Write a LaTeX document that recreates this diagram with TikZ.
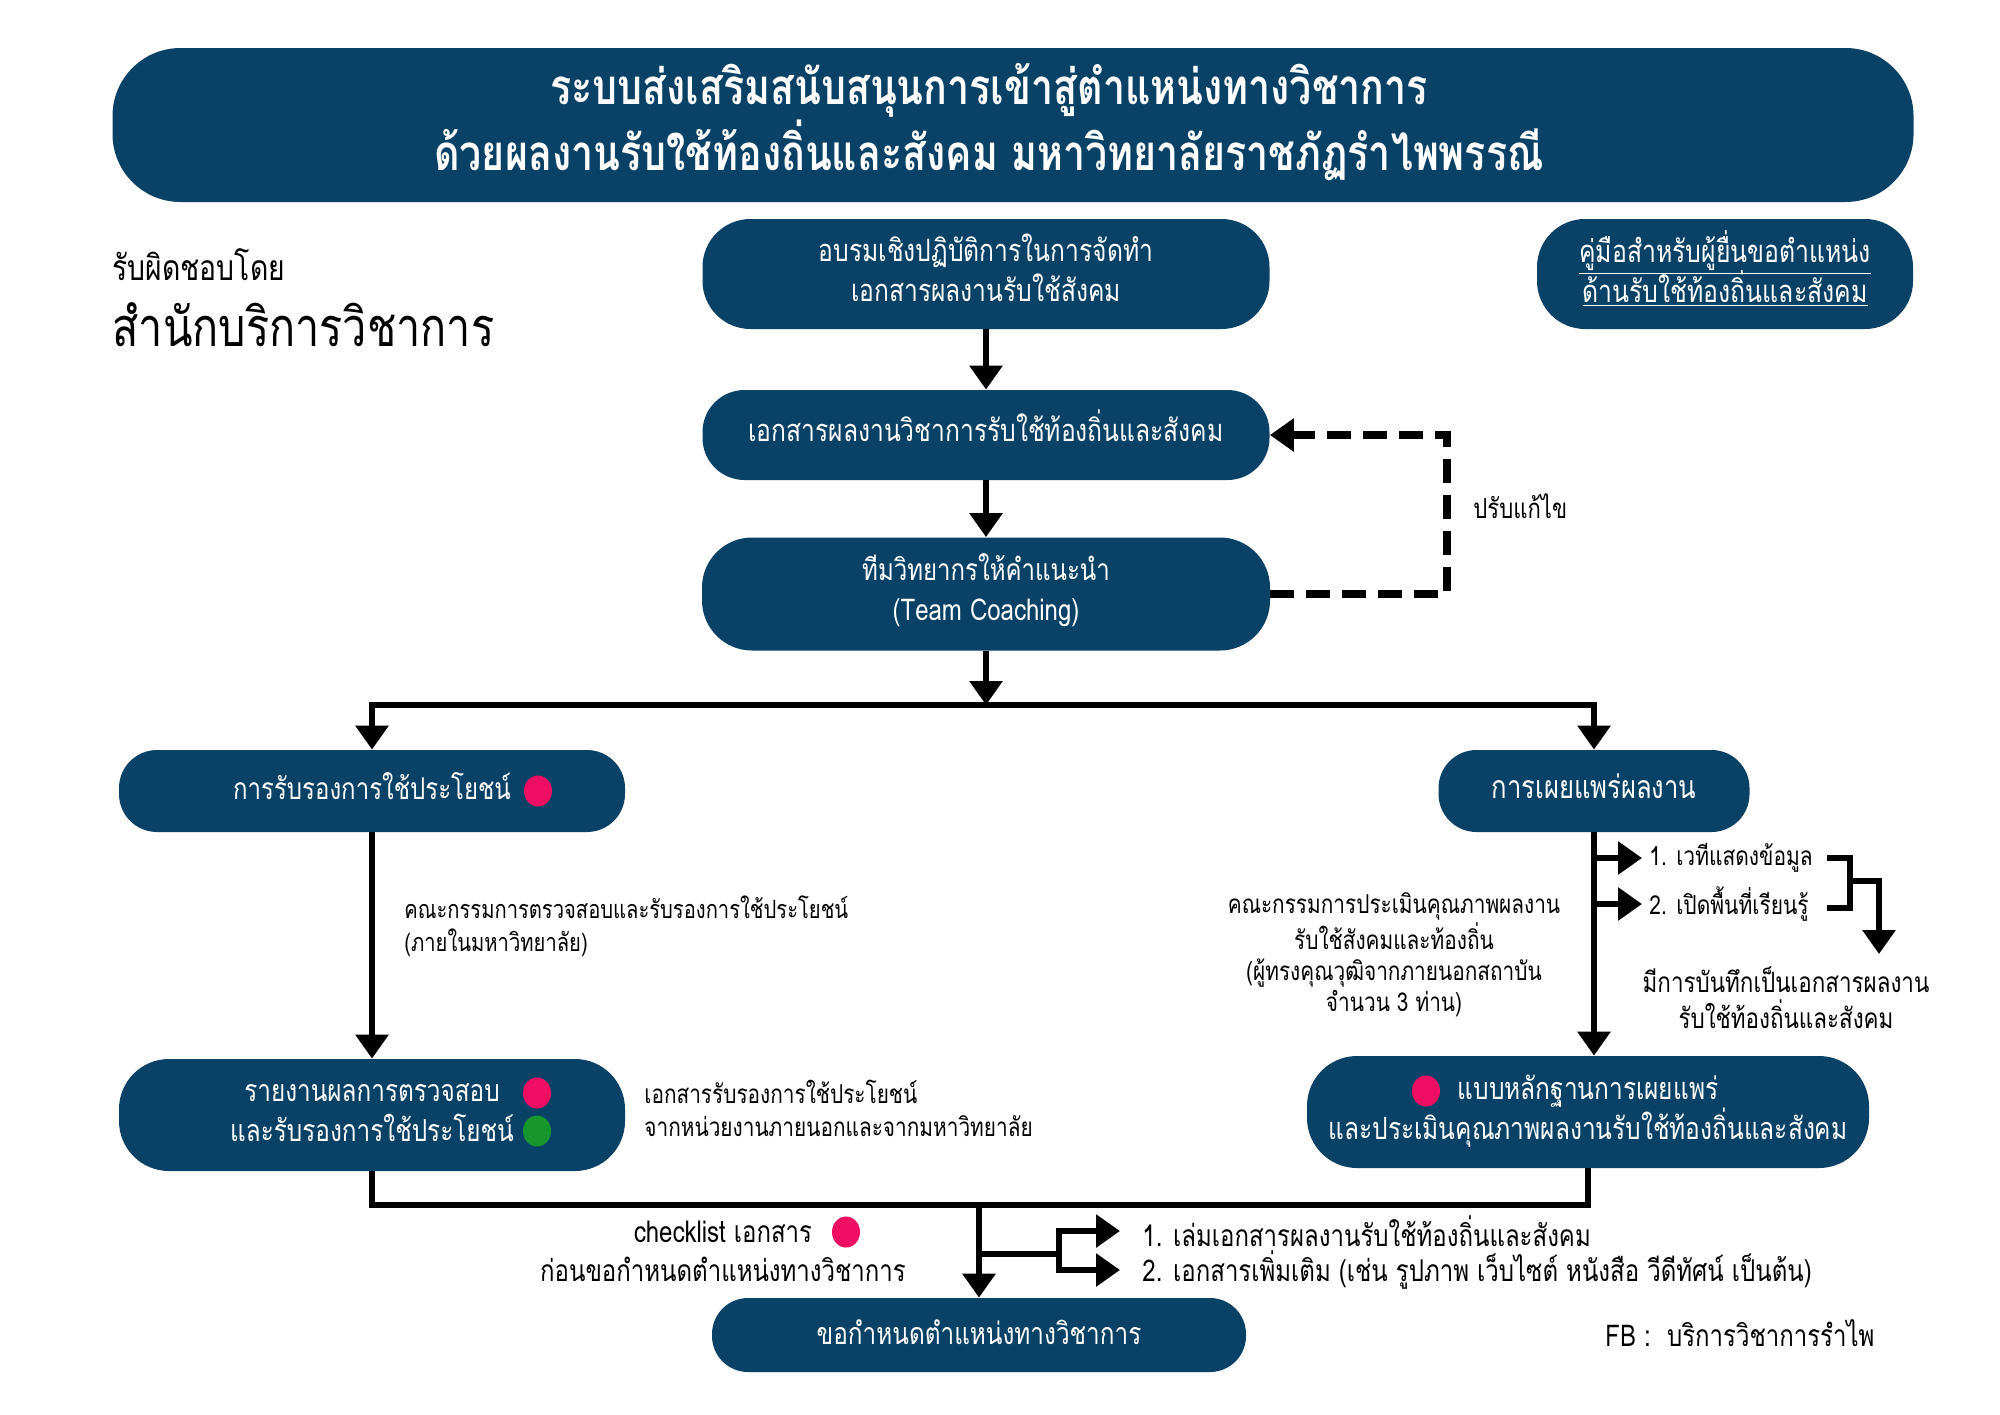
\documentclass[tikz,border=0pt]{standalone}
\usepackage{fontspec}
\setmainfont{Loma}[Script=Thai,FakeStretch=0.8]
\usetikzlibrary{arrows.meta,shapes.geometric}
\definecolor{navy}{RGB}{9,66,102}
\definecolor{dotpink}{RGB}{240,14,98}
\definecolor{dotgreen}{RGB}{22,150,45}
\newcommand\fsz[2]{\fontsize{#1}{#2}\selectfont}
\newcommand\tightlines{\setlength\lineskiplimit{-20pt}\setlength\lineskip{0pt}}
\begin{document}
\begin{tikzpicture}[x=0.5pt,y=-0.5pt,
  box/.style={fill=navy,rounded corners=20pt,inner sep=0pt},
  btxt/.style={text=white,inner sep=0pt,align=center,font=\fsz{15.4}{20}},
  flow/.style={line width=3.4pt,-{Triangle[width=16pt,length=12pt]}},
  plain/.style={line width=3.4pt},
  dashline/.style={line width=3.6pt,dash pattern=on 12pt off 6pt},
  lbl/.style={inner sep=0pt,align=center},
  dot/.style={ellipse,inner sep=0pt,minimum width=14pt,minimum height=15.5pt},
]
\useasboundingbox[fill=white] (0,0) rectangle (2000,1414);

% title
\node[box,rounded corners=34pt,minimum width=900.5pt,minimum height=77pt] (title) at (1013,125) {};
\node[btxt,font=\fsz{24.6}{30}\bfseries] (titlet) at (989,122)
 {ระบบส่งเสริมสนับสนุนการเข้าสู่ตำแหน่งทางวิชาการ\\ด้วยผลงานรับใช้ท้องถิ่นและสังคม มหาวิทยาลัยราชภัฏรำไพพรรณี};

% responsible
\node[lbl,anchor=west,font=\fsz{17.7}{20}] (resp) at (112,265) {รับผิดชอบโดย};
\node[lbl,anchor=west,font=\fsz{27}{32}] (office) at (112,325) {สำนักบริการวิชาการ};

% main column
\node[box,rounded corners=24pt,minimum width=283.5pt,minimum height=55pt] (b1) at (986,274) {};
\node[btxt] (b1t) at (986,268) {อบรมเชิงปฏิบัติการในการจัดทำ\\เอกสารผลงานรับใช้สังคม};
\node[box,rounded corners=21pt,minimum width=283.5pt,minimum height=45pt] (b2) at (986,435) {};
\node[btxt] (b2t) at (986,426) {เอกสารผลงานวิชาการรับใช้ท้องถิ่นและสังคม};
\node[box,rounded corners=25pt,minimum width=284pt,minimum height=56.5pt] (b3) at (986,594) {};
\node[btxt,font=\fsz{15}{20}] (b3t) at (986,590) {ทีมวิทยากรให้คำแนะนำ\\(Team Coaching)};
\node[box,rounded corners=24pt,minimum width=188pt,minimum height=55pt] (man) at (1725,274) {};
\node[btxt,font=\fsz{15.5}{20}\tightlines] (mant) at (1725,269)
 {\underline{คู่มือสำหรับผู้ยื่นขอตำแหน่ง}\\\underline{ด้านรับใช้ท้องถิ่นและสังคม}};

\draw[flow] (b1) -- (b2);
\draw[flow] (b2) -- (b3);
\coordinate (fb) at (1447,515);
\draw[dashline,-{Triangle[width=16pt,length=12pt]}] (b3.east) -| (fb) |- (b2.east);
\node[lbl,anchor=west,font=\fsz{13.8}{18}] (fix) at (1473,506) {ปรับแก้ไข};

% second level
\node[box,rounded corners=19pt,minimum width=253pt,minimum height=41pt] (l1) at (372,791) {};
\node[btxt,font=\fsz{15}{20}] (l1t) at (372,786) {การรับรองการใช้ประโยชน์};
\node[dot,fill=dotpink] (d1) at (538,791) {};
\node[box,rounded corners=19pt,minimum width=155.5pt,minimum height=41pt] (r1) at (1594,791) {};
\node[btxt,font=\fsz{16}{20}] (r1t) at (1594,786) {การเผยแพร่ผลงาน};

\coordinate (busC) at (986,705);
\draw[flow] (b3) -- (busC);
\draw[flow] (busC) -| (l1.north);
\draw[flow] (busC) -| (r1.north);

% third level
\node[box,rounded corners=25pt,minimum width=253pt,minimum height=56pt] (l2) at (372,1115) {};
\node[btxt,font=\fsz{15.2}{20}] (l2t) at (372,1113) {รายงานผลการตรวจสอบ\\และรับรองการใช้ประโยชน์};
\node[dot,fill=dotpink] (d2) at (537,1093) {};
\node[dot,fill=dotgreen] (d3) at (537,1131) {};
\node[box,rounded corners=25pt,minimum width=281pt,minimum height=56pt] (r2) at (1588,1112) {};
\node[btxt,font=\fsz{15.3}{20}] (r2t) at (1588,1111) {แบบหลักฐานการเผยแพร่\\และประเมินคุณภาพผลงานรับใช้ท้องถิ่นและสังคม};
\node[dot,fill=dotpink] (d4) at (1426,1091) {};

\draw[flow] (l1) -- (l2);
\node[lbl,anchor=west,align=left,font=\fsz{12.6}{16.5}] (lab1) at (404,926)
 {คณะกรรมการตรวจสอบและรับรองการใช้ประโยชน์\\(ภายในมหาวิทยาลัย)};
\node[lbl,anchor=west,align=left,font=\fsz{13}{16.5}] (lab2) at (644,1108)
 {เอกสารรับรองการใช้ประโยชน์\\จากหน่วยงานภายนอกและจากมหาวิทยาลัย};

\draw[flow] (r1.south) -- (r1.south |- r2.north);
\node[lbl,font=\fsz{13}{15.5}] (lab3) at (1394,955)
 {คณะกรรมการประเมินคุณภาพผลงาน\\รับใช้สังคมและท้องถิ่น\\(ผู้ทรงคุณวุฒิจากภายนอกสถาบัน\\จำนวน 3 ท่าน)};
\node[lbl,anchor=west,font=\fsz{13.1}{18}] (t1) at (1649,858) {1. เวทีแสดงข้อมูล};
\node[lbl,anchor=west,font=\fsz{13.1}{18}] (t2) at (1649,904) {2. เปิดพื้นที่เรียนรู้};
\coordinate (rb1) at (1594,858);
\coordinate (rb2) at (1594,904);
\draw[flow,shorten >=3.5pt] (rb1) -- (t1.west);
\draw[flow,shorten >=3.5pt] (rb2) -- (t2.west);
\coordinate (k1) at (1827,858);
\coordinate (k2) at (1850,881);
\coordinate (k3) at (1827,908);
\coordinate (k4) at (1879,954);
\draw[plain] (k1) -| (k2) |- (k3);
\draw[flow] (k2) -| (k4);
\node[lbl,font=\fsz{14}{18}] (rec) at (1786,998) {มีการบันทึกเป็นเอกสารผลงาน\\รับใช้ท้องถิ่นและสังคม};

% final
\node[box,rounded corners=18pt,minimum width=267pt,minimum height=37pt] (fin) at (979,1335) {};
\node[btxt,font=\fsz{15.2}{20}] (fint) at (979,1332) {ขอกำหนดตำแหน่งทางวิชาการ};
\coordinate (bb) at (979,1205);
\draw[plain] (l2.south) |- (bb) -| (r2.south);
\draw[flow] (bb) -- (fin.north);
\coordinate (bj) at (979,1254);
\coordinate (bk) at (1059,1254);
\node[lbl,anchor=west,font=\fsz{15}{18}] (n1) at (1142,1231) {1. เล่มเอกสารผลงานรับใช้ท้องถิ่นและสังคม};
\node[lbl,anchor=west,font=\fsz{15}{18}] (n2) at (1142,1270) {2. เอกสารเพิ่มเติม (เช่น รูปภาพ เว็บไซต์ หนังสือ วีดีทัศน์ เป็นต้น)};
\draw[plain] (bj) -- (bk);
\draw[flow,shorten >=11pt] (bk) |- (n1.west);
\draw[flow,shorten >=11pt] (bk) |- (n2.west);
\node[lbl,font=\fsz{15}{19.5}] (chk) at (723,1251) {checklist เอกสาร\\ก่อนขอกำหนดตำแหน่งทางวิชาการ};
\node[dot,fill=dotpink] (d5) at (846,1232) {};
\node[lbl,anchor=west,font=\fsz{15}{18}] (fbk) at (1605,1333) {FB :~ บริการวิชาการรำไพ};
\end{tikzpicture}
\end{document}
